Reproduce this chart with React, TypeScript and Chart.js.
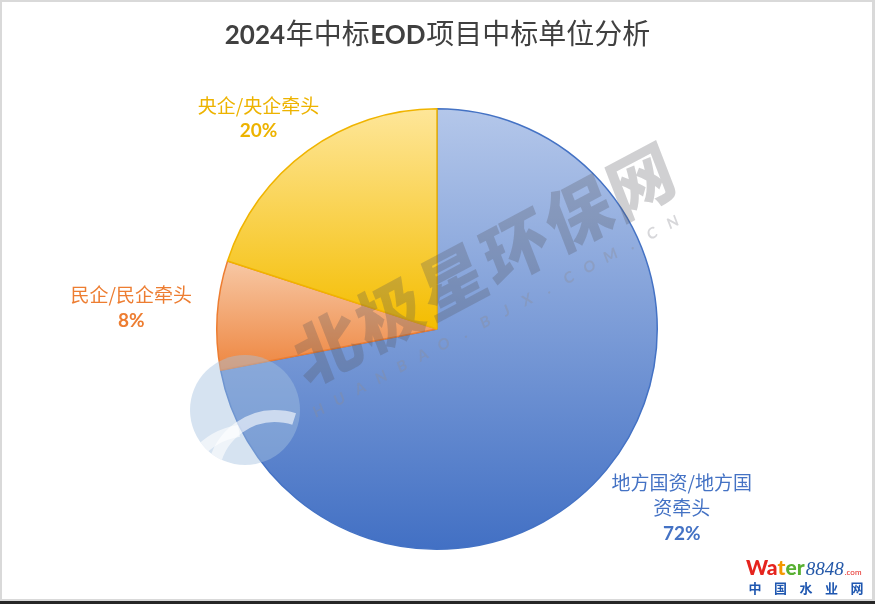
import React, { useEffect, useRef } from "react";
import { Chart, registerables } from "chart.js";

Chart.register(...registerables);

// Share of winning bidders by type (percent), clockwise from 12 o'clock
const categories = ["地方国资/地方国资牵头", "民企/民企牵头", "央企/央企牵头"];
const shares = [72, 8, 20];
// Label text split over lines as shown beside each slice
const labelLines = [["地方国资/地方国", "资牵头"], ["民企/民企牵头"], ["央企/央企牵头"]];

// Title runs: latin runs are bold, CJK runs regular
const titleRuns = [
  { text: "2024", latin: true },
  { text: "年中标", latin: false },
  { text: "EOD", latin: true },
  { text: "项目中标单位分析", latin: false },
];

const gradientTop = ["#B4C7EA", "#F7C8A5", "#FEE699"];
const gradientBottom = ["#4270C4", "#EE8640", "#F4BD00"];
const borderColors = ["#4472C4", "#ED7D31", "#F0B400"];
const textColors = ["#4472C4", "#ED7D31", "#EDB300"];

// Label placement relative to the outer edge point at each slice's mid-angle
const labelOffsets: [number, number][] = [[75, 13], [-86, -20], [-49, -45]];
const LINE_GAP = 25.5;
const BORDER_W = 1.5;

const CJK = "'Noto Sans CJK SC', 'Noto Sans CJK JP', sans-serif";
const LATIN = "Lato, 'Open Sans', sans-serif";

function pieGeometry(chart: any) {
  const a = chart.chartArea;
  const cx = (a.left + a.right) / 2;
  const cy = (a.top + a.bottom) / 2;
  const r = (Math.min(a.right - a.left, a.bottom - a.top) - BORDER_W) / 2;
  return { cx, cy, r };
}

function sliceAngles(i: number) {
  const total = shares.reduce((s, v) => s + v, 0);
  let before = 0;
  for (let k = 0; k < i; k++) before += shares[k];
  const start = -Math.PI / 2 + (before / total) * Math.PI * 2;
  const end = start + (shares[i] / total) * Math.PI * 2;
  return { start, end };
}

function sliceFill(context: any) {
  const i = context.dataIndex ?? 0;
  const chart = context.chart;
  if (!chart.chartArea) return gradientBottom[i];
  const { cx, cy, r } = pieGeometry(chart);
  const { start, end } = sliceAngles(i);
  const ys = [cy, cy + r * Math.sin(start), cy + r * Math.sin(end)];
  for (const ang of [-Math.PI / 2, Math.PI / 2, (3 * Math.PI) / 2]) {
    if (ang >= start && ang <= end) ys.push(cy + r * Math.sin(ang));
  }
  const y0 = Math.min(...ys);
  const y1 = Math.max(...ys);
  const g = chart.ctx.createLinearGradient(0, y0, 0, y1);
  g.addColorStop(0, gradientTop[i]);
  g.addColorStop(1, gradientBottom[i]);
  return g;
}

function drawTitle(ctx: CanvasRenderingContext2D) {
  const latinFont = `bold 26px ${LATIN}`;
  const cjkFont = `28px ${CJK}`;
  const widths = titleRuns.map((run) => {
    ctx.font = run.latin ? latinFont : cjkFont;
    return ctx.measureText(run.text).width;
  });
  const gap = 0.6;
  const total = widths.reduce((s, w) => s + w, 0) + gap * (titleRuns.length - 1);
  let x = 437.5 - total / 2;
  ctx.save();
  ctx.fillStyle = "#404040";
  ctx.textAlign = "left";
  ctx.textBaseline = "alphabetic";
  titleRuns.forEach((run, k) => {
    ctx.font = run.latin ? latinFont : cjkFont;
    ctx.fillText(run.text, x, 44);
    x += widths[k] + gap;
  });
  ctx.restore();
}

function drawLabels(chart: any) {
  const ctx: CanvasRenderingContext2D = chart.ctx;
  const { cx, cy, r } = pieGeometry(chart);
  ctx.save();
  ctx.textAlign = "center";
  ctx.textBaseline = "middle";
  shares.forEach((v, i) => {
    const { start, end } = sliceAngles(i);
    const mid = (start + end) / 2;
    const ox = cx + r * Math.cos(mid) + labelOffsets[i][0];
    const oy = cy + r * Math.sin(mid) + labelOffsets[i][1];
    ctx.fillStyle = textColors[i];
    ctx.font = `19px ${CJK}`;
    labelLines[i].forEach((line, j) => ctx.fillText(line, ox, oy + j * LINE_GAP));
    ctx.font = `bold 19px ${LATIN}`;
    ctx.fillText(`${v}%`, ox, oy + labelLines[i].length * LINE_GAP);
  });
  ctx.restore();
}

function drawWatermark(ctx: CanvasRenderingContext2D) {
  // round emblem
  ctx.save();
  ctx.beginPath();
  ctx.arc(245, 410, 55, 0, Math.PI * 2);
  ctx.fillStyle = "rgba(165,192,224,0.45)";
  ctx.fill();
  ctx.clip();
  ctx.strokeStyle = "rgba(255,255,255,0.6)";
  ctx.lineWidth = 12;
  ctx.beginPath();
  ctx.arc(275, 478, 62, Math.PI * 1.05, Math.PI * 1.6);
  ctx.stroke();
  ctx.beginPath();
  ctx.arc(250, 500, 70, Math.PI * 1.0, Math.PI * 1.45);
  ctx.stroke();
  ctx.restore();

  ctx.save();
  ctx.translate(484, 264);
  ctx.rotate((-28 * Math.PI) / 180);
  ctx.transform(1, 0, -0.12, 1, 0, 0);
  ctx.textAlign = "center";
  ctx.textBaseline = "middle";
  ctx.font = `900 68px ${CJK}`;
  ctx.fillStyle = "rgba(80,80,90,0.27)";
  const big = "北极星环保网";
  for (let k = 0; k < big.length; k++) {
    ctx.fillText(big[k], (k - 2.5) * 71, 0);
  }
  ctx.font = `bold 15px ${LATIN}`;
  ctx.fillStyle = "rgba(140,140,150,0.35)";
  const small = "HUANBAO.BJX.COM.CN";
  for (let k = 0; k < small.length; k++) {
    ctx.fillText(small[k], (k - 8.5) * 23.6 - 8, 52);
  }
  ctx.restore();
}

function drawSiteMark(ctx: CanvasRenderingContext2D) {
  ctx.save();
  ctx.textBaseline = "alphabetic";
  ctx.textAlign = "left";
  const parts: [string, string][] = [["Wa", "#E5241E"], ["t", "#F39800"], ["er", "#58B032"]];
  let x = 746;
  ctx.font = `900 21px ${LATIN}`;
  for (const [t, c] of parts) {
    ctx.fillStyle = c;
    ctx.fillText(t, x, 575);
    x += ctx.measureText(t).width;
  }
  ctx.font = `italic 19px 'Liberation Serif', 'DejaVu Serif', serif`;
  ctx.fillStyle = "#2458A8";
  ctx.fillText("8848", x + 1, 575);
  x += ctx.measureText("8848").width + 2;
  ctx.font = `8px ${LATIN}`;
  ctx.fillStyle = "#E5241E";
  ctx.fillText(".com", x, 575);
  ctx.font = `bold 13px ${CJK}`;
  ctx.fillStyle = "#1F57B0";
  ctx.textAlign = "center";
  ctx.textBaseline = "middle";
  const name = "中国水业网";
  for (let k = 0; k < name.length; k++) ctx.fillText(name[k], 755 + k * 25.5, 588);
  ctx.restore();
}

function drawFrame(ctx: CanvasRenderingContext2D) {
  ctx.save();
  ctx.fillStyle = "#D9D9D9";
  ctx.fillRect(0, 0, 875, 2);
  ctx.fillRect(0, 0, 2, 604);
  ctx.fillRect(872, 0, 3, 604);
  ctx.fillRect(0, 599, 875, 2);
  ctx.fillStyle = "#262626";
  ctx.fillRect(0, 601, 875, 3);
  ctx.restore();
}

const decorPlugin = {
  id: "decor",
  beforeDraw(chart: any) {
    const ctx = chart.ctx;
    ctx.save();
    ctx.fillStyle = "#FFFFFF";
    ctx.fillRect(0, 0, chart.width, chart.height);
    ctx.restore();
  },
  afterDatasetsDraw(chart: any) {
    drawWatermark(chart.ctx);
    drawLabels(chart);
  },
  afterDraw(chart: any) {
    drawTitle(chart.ctx);
    drawSiteMark(chart.ctx);
    drawFrame(chart.ctx);
  },
};

export default function App() {
  const canvasRef = useRef<HTMLCanvasElement | null>(null);

  useEffect(() => {
    if (!canvasRef.current) return;
    const chart = new Chart(canvasRef.current, {
      type: "pie",
      data: {
        labels: categories,
        datasets: [
          {
            data: shares,
            backgroundColor: sliceFill,
            borderColor: borderColors,
            borderWidth: BORDER_W,
          },
        ],
      },
      options: {
        responsive: false,
        animation: false,
        layout: { padding: { top: 108, bottom: 54, left: 0, right: 1 } },
        plugins: {
          legend: { display: false },
          tooltip: { enabled: false },
          title: { display: false },
        },
      },
      plugins: [decorPlugin],
    });
    return () => chart.destroy();
  }, []);

  return (
    <div style={{ position: "fixed", left: 0, top: 0, width: 875, height: 604 }}>
      <canvas ref={canvasRef} width={875} height={604} style={{ display: "block" }} />
    </div>
  );
}
